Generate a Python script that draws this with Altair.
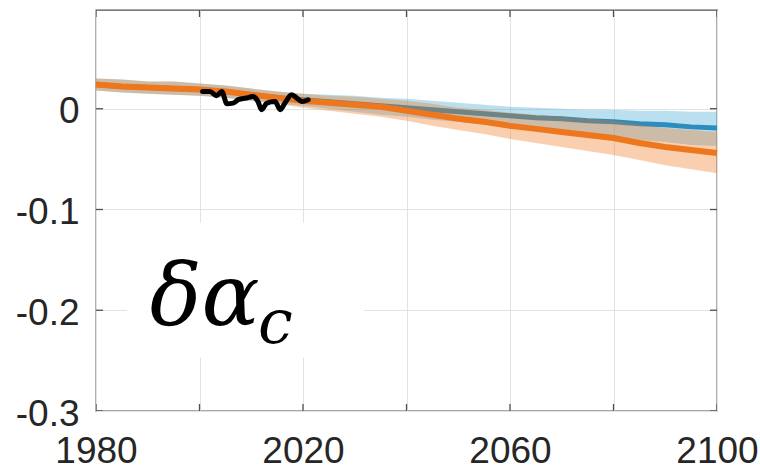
import altair as alt
import pandas as pd

# ---------------- data ----------------
years = [1980, 1985, 1990, 1995, 2000, 2005, 2010, 2015, 2020, 2025, 2030, 2035,
         2040, 2045, 2050, 2055, 2060, 2065, 2070, 2075, 2080, 2085, 2090, 2095, 2100]

orange = [0.024, 0.022, 0.021, 0.020, 0.019, 0.017, 0.014, 0.011, 0.008, 0.006, 0.004, 0.002,
          -0.002, -0.006, -0.010, -0.013, -0.017, -0.020, -0.023, -0.026, -0.029, -0.034, -0.038, -0.041, -0.044]
orange_hi = [0.030, 0.029, 0.027, 0.027, 0.025, 0.023, 0.020, 0.017, 0.015, 0.013, 0.012, 0.010,
             0.008, 0.005, 0.001, -0.001, -0.004, -0.006, -0.008, -0.010, -0.012, -0.016, -0.019, -0.021, -0.023]
orange_lo = [0.018, 0.016, 0.015, 0.014, 0.013, 0.011, 0.008, 0.005, 0.001, -0.002, -0.005, -0.008,
             -0.012, -0.017, -0.021, -0.025, -0.030, -0.034, -0.038, -0.042, -0.046, -0.051, -0.056, -0.060, -0.064]

blue = [0.024, 0.022, 0.021, 0.020, 0.019, 0.017, 0.014, 0.011, 0.009, 0.007, 0.005, 0.003,
        0.001, -0.001, -0.003, -0.005, -0.007, -0.009, -0.010, -0.012, -0.013, -0.015, -0.016, -0.018, -0.019]
blue_hi = [0.030, 0.029, 0.027, 0.027, 0.025, 0.023, 0.020, 0.017, 0.015, 0.014, 0.013, 0.011,
           0.010, 0.008, 0.006, 0.004, 0.002, 0.001, 0.000, -0.001, -0.001, -0.002, -0.002, -0.003, -0.003]
blue_lo = [0.018, 0.016, 0.015, 0.014, 0.013, 0.011, 0.008, 0.005, 0.003, 0.000, -0.003, -0.006,
           -0.008, -0.011, -0.013, -0.016, -0.018, -0.021, -0.023, -0.026, -0.028, -0.031, -0.033, -0.036, -0.037]

obs_years = [2000.6, 2002.0, 2003.3, 2004.3, 2005.3, 2006.5, 2007.5, 2009.1, 2010.3, 2011.3,
             2012.0, 2013.0, 2014.6, 2015.6, 2016.5, 2017.8, 2018.8, 2019.8, 2021.0]
obs = [0.017, 0.017, 0.013, 0.017, 0.005, 0.0056, 0.009, 0.0106, 0.0122, 0.0072,
       -0.001, 0.0056, 0.0072, -0.001, 0.0056, 0.0139, 0.0106, 0.0072, 0.0089]

x_ticks = [1980, 2000, 2020, 2040, 2060, 2080, 2100]
y_ticks = [-0.3, -0.2, -0.1, 0.0]
x_domain = [1980, 2100]
y_domain = [-0.3, 0.098]

# label box and text (in data units)
box = pd.DataFrame({"x1": [1986.0], "x2": [2031.8], "y1": [-0.113], "y2": [-0.2475]})
lab_main = pd.DataFrame({"year": [1990.4], "value": [-0.2146], "t": ["δα"]})
lab_sub = pd.DataFrame({"year": [2011.3], "value": [-0.2324], "t": ["c"]})

ORANGE = "#EE761D"
BLUE = "#2B8CBE"
BLUE_BAND = "#5BB5DC"
FRAME = "#505050"

series = pd.DataFrame({"year": years, "orange": orange, "orange_hi": orange_hi, "orange_lo": orange_lo,
                       "blue": blue, "blue_hi": blue_hi, "blue_lo": blue_lo})
obs_df = pd.DataFrame({"year": obs_years, "value": obs})

xs = alt.Scale(domain=x_domain, nice=False, zero=False)
ys = alt.Scale(domain=y_domain, nice=False, zero=False)

x_axis = alt.Axis(values=x_ticks, format="d", title=None, grid=True,
                  labelExpr="datum.value % 40 == 0 ? '' : datum.label",
                  labelBaseline="alphabetic", labelPadding=51, ticks=False, tickSize=0,
                  domain=False, labelFlush=False, labelOverlap=False)
y_axis = alt.Axis(values=y_ticks, title=None, grid=True,
                  labelExpr="datum.value == 0 ? '0' : '-' + format(-datum.value, '.1f')",
                  labelPadding=17, ticks=False, tickSize=0, domain=False, labelOffset=3,
                  labelFlush=False, labelOverlap=False)

base = alt.Chart(series)

rect = alt.Chart(box).mark_rect(color="white").encode(
    x=alt.X("x1:Q", scale=xs, axis=x_axis), x2="x2:Q",
    y=alt.Y("y1:Q", scale=ys, axis=y_axis), y2="y2:Q")

blue_band = base.mark_area(color=BLUE_BAND, opacity=0.42).encode(
    x=alt.X("year:Q", scale=xs), y=alt.Y("blue_lo:Q", scale=ys), y2="blue_hi:Q")
blue_line = base.mark_line(color=BLUE, strokeWidth=5).encode(
    x=alt.X("year:Q", scale=xs), y=alt.Y("blue:Q", scale=ys))
orange_band = base.mark_area(color=ORANGE, opacity=0.35).encode(
    x=alt.X("year:Q", scale=xs), y=alt.Y("orange_lo:Q", scale=ys), y2="orange_hi:Q")
orange_line = base.mark_line(color=ORANGE, strokeWidth=6).encode(
    x=alt.X("year:Q", scale=xs), y=alt.Y("orange:Q", scale=ys))
obs_line = alt.Chart(obs_df).mark_line(color="black", strokeWidth=5, interpolate="monotone",
                                       strokeCap="round", strokeJoin="round").encode(
    x=alt.X("year:Q", scale=xs), y=alt.Y("value:Q", scale=ys))

txt_main = alt.Chart(lab_main).mark_text(font="DejaVu Serif", fontStyle="italic", fontSize=86,
                                         align="left", baseline="alphabetic", color="black").encode(
    x=alt.X("year:Q", scale=xs), y=alt.Y("value:Q", scale=ys), text="t:N")
txt_sub = alt.Chart(lab_sub).mark_text(font="DejaVu Serif", fontStyle="italic", fontSize=62,
                                       align="left", baseline="alphabetic", color="black").encode(
    x=alt.X("year:Q", scale=xs), y=alt.Y("value:Q", scale=ys), text="t:N")

# inward tick marks (MATLAB style), clipped to the plot box
tick_x_df = pd.DataFrame({"year": x_ticks * 2,
                          "value": [y_domain[0]] * len(x_ticks) + [y_domain[1]] * len(x_ticks)})
tick_y_df = pd.DataFrame({"year": [x_domain[0]] * len(y_ticks) + [x_domain[1]] * len(y_ticks),
                          "value": y_ticks * 2})
ticks_x = alt.Chart(tick_x_df).mark_tick(orient="vertical", size=14, thickness=1.3, color=FRAME,
                                         clip=True, opacity=1).encode(
    x=alt.X("year:Q", scale=xs), y=alt.Y("value:Q", scale=ys))
ticks_y = alt.Chart(tick_y_df).mark_tick(orient="horizontal", size=14, thickness=1.3, color=FRAME,
                                         clip=True, opacity=1).encode(
    x=alt.X("year:Q", scale=xs), y=alt.Y("value:Q", scale=ys))

chart = alt.layer(rect, blue_band, blue_line, orange_band, orange_line, obs_line,
                  txt_main, txt_sub, ticks_x, ticks_y).properties(
    width=621, height=401, autosize="none",
    padding={"left": 96, "top": 10, "right": 43, "bottom": 60},
    background="white",
).configure_axis(
    gridColor="#e2e2e2", gridWidth=1, gridOpacity=1,
    labelFont="Liberation Sans", labelFontSize=37, labelColor="#262626",
).configure_view(stroke=FRAME, strokeWidth=1.3)

chart.save("out.html", embed_options={"renderer": "svg", "actions": False})
